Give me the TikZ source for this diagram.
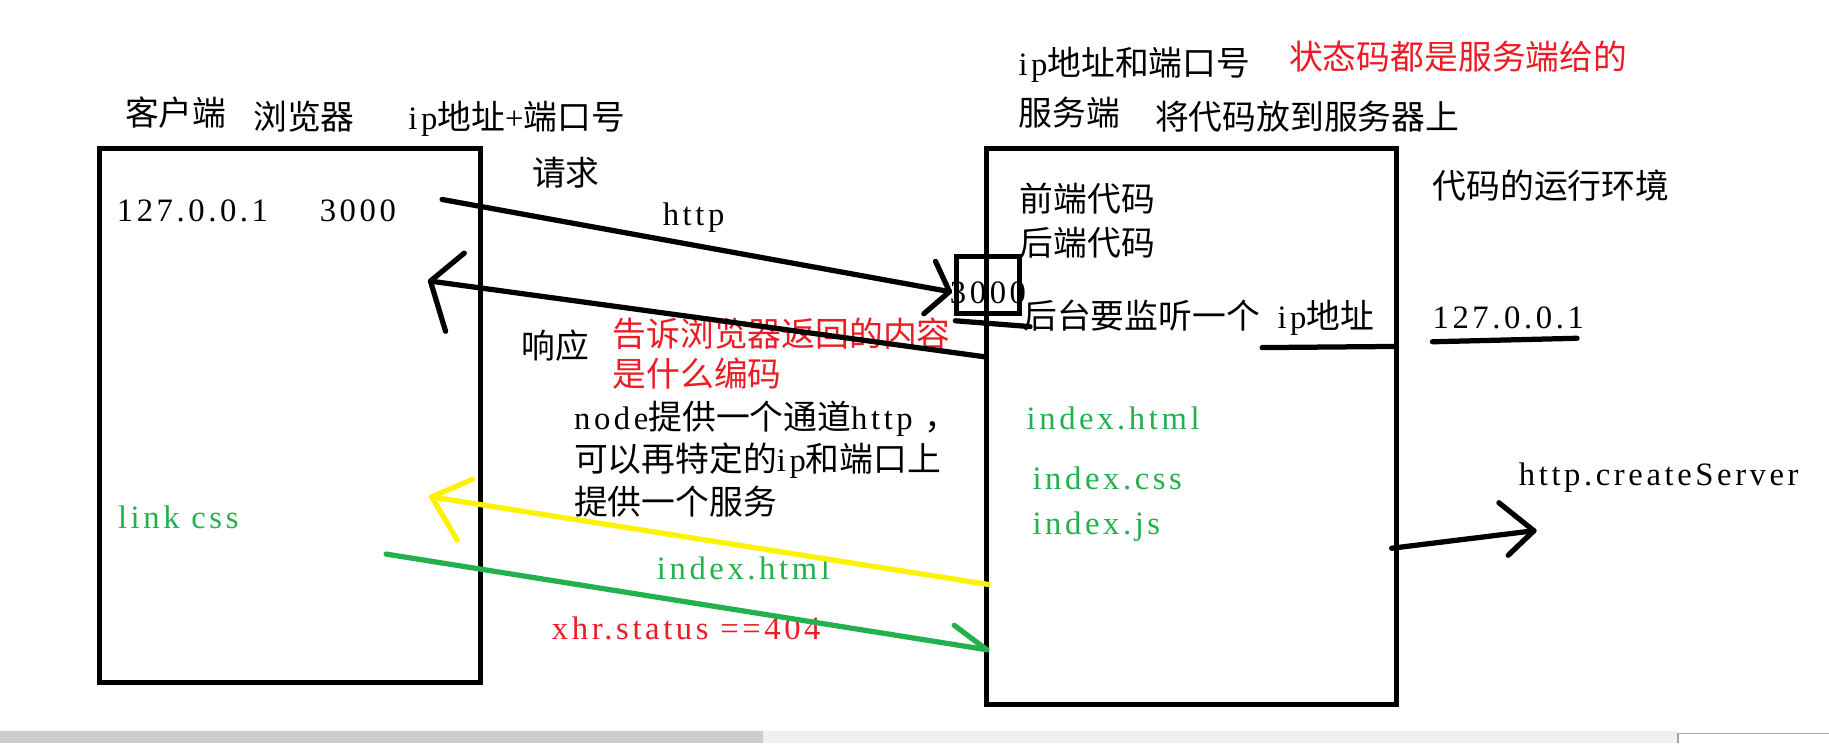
\documentclass[tikz,border=0pt]{standalone}
\usepackage{fontspec}
\setmainfont{Liberation Serif}[LetterSpace=11]
\newfontfamily\cjk{Noto Sans CJK SC}[Scale=1.035]
\newcommand\C[1]{{\cjk #1}}
\newcommand\fs{\fontsize{28}{34}\selectfont}
\definecolor{pgreen}{RGB}{34,177,76}
\definecolor{pred}{RGB}{237,28,36}
\definecolor{pyellow}{RGB}{255,242,0}
\tikzset{
  lbl/.style={anchor=west, inner sep=0pt, text height=24pt, text depth=4pt, font=\fs},
  gtxt/.style={lbl, text=pgreen},
  rtxt/.style={lbl, text=pred},
  stroke/.style={line width=4.5pt, line cap=round, line join=round},
  frame/.style={draw, line width=4.5pt, inner sep=0pt, outer sep=0pt, anchor=north west},
}
\begin{document}
\begin{tikzpicture}[x=1pt,y=-1pt]
\useasboundingbox (0,0) rectangle (1568,637);
\fill[white] (0,0) rectangle (1568,637);
% bottom scroll bar
\fill[black!20] (0,627) rectangle (654,637);
\fill[black!6] (654,627) rectangle (1438,637);
\fill[white] (1438,628.5) rectangle (1568,637);
\draw[black!35, line width=1pt] (1438.5,637) -- (1438.5,628.5) -- (1568,628.5);

% boxes
\node[frame, minimum width=327pt, minimum height=458pt] (client) at (85,127) {};
\node[frame, minimum width=351pt, minimum height=477pt] (server) at (846,127) {};
\node[frame, minimum width=54pt, minimum height=49pt, line width=4pt] (port) at (820,220) {};

% texts top left
\node[lbl] (t1) at (107,98) {\C{客户端}};
\node[lbl] (t2) at (217,101) {\C{浏览器}};
\node[lbl] (t3) at (350,101) {ip\C{地址}+\C{端口号}};
\node[lbl] (cip) at (100,180) {127.0.0.1};
\node[lbl] (cport) at (274,180) {3000};
\node[lbl] (qq) at (456,149) {\C{请求}};
\node[lbl] (http) at (568,183) {http};

% texts top right
\node[lbl] (t8) at (873,55) {ip\C{地址和端口号}};
\node[rtxt] (t9) at (1105,50) {\C{状态码都是服务端给的}};
\node[lbl] (t10) at (873,98) {\C{服务端}};
\node[lbl] (t11) at (990,101) {\C{将代码放到服务器上}};
\node[lbl] (t12) at (874,171) {\C{前端代码}};
\node[lbl] (t13) at (874,209) {\C{后端代码}};
\node[lbl] (t14) at (1228,160) {\C{代码的运行环境}};
\node[lbl, anchor=center] (p3000) at (847,250) {3000};
\node[lbl] (t16) at (877,272) {\C{后台要监听一个}};
\node[lbl] (t17) at (1095,272) {ip\C{地址}};
\node[lbl] (t18) at (1228,272) {127.0.0.1};

% middle texts
\node[lbl] (resp) at (447,297) {\C{响应}};
\node[rtxt] (r1) at (525,287) {\C{告诉浏览器返回的内容}};
\node[rtxt] (r2) at (525,321) {\C{是什么编码}};
\node[lbl] (n1) at (492,358) {node\C{提供一个通道}http \C{，}};
\node[lbl] (n2) at (492,394) {\C{可以再特定的}ip\C{和端口上}};
\node[lbl] (n3) at (492,431) {\C{提供一个服务}};

\node[gtxt] (g1) at (880,358) {index.html};
\node[gtxt] (g2) at (885,410) {index.css};
\node[gtxt] (g3) at (885,448) {index.js};
\node[lbl] (cs) at (1302,406) {http.createServer};
\node[gtxt] (lk) at (101,443) {link css};
\node[gtxt] (g4) at (563,487) {index.html};
\node[rtxt] (xs) at (473,538) {xhr.status ==404};

% connector coordinates
\coordinate (reqS) at (379,171);
\coordinate (reqT) at (814,250);
\coordinate (reqA) at (802,224);
\coordinate (reqB) at (792,269);
\coordinate (lnS) at (819,275);
\coordinate (lnT) at (883,280);
\coordinate (resS) at (845,306);
\coordinate (resT) at (369,241);
\coordinate (resA) at (398,217);
\coordinate (resB) at (382,284);
\coordinate (u1S) at (1082,298);
\coordinate (u1T) at (1197,297);
\coordinate (u2S) at (1228,293);
\coordinate (u2T) at (1352,290);
\coordinate (csS) at (1193,470);
\coordinate (csT) at (1315,455);
\coordinate (csA) at (1285,431);
\coordinate (csB) at (1293,476);
\coordinate (yS) at (847,501);
\coordinate (yT) at (370,426);
\coordinate (yA) at (405,411);
\coordinate (yB) at (392,463);
\coordinate (gS) at (331,475);
\coordinate (gT) at (846,557);
\coordinate (gA) at (818,536);

% connectors
\draw[stroke] (reqS) -- (reqT);
\draw[stroke] (reqA) -- (reqT) -- (reqB);
\draw[stroke] (lnS) -- (lnT);
\draw[stroke] (resS) -- (resT);
\draw[stroke] (resA) -- (resT) -- (resB);
\draw[stroke] (u1S) -- (u1T);
\draw[stroke] (u2S) -- (u2T);
\draw[stroke] (csS) -- (csT);
\draw[stroke] (csA) -- (csT) -- (csB);
\draw[stroke, pyellow] (yS) -- (yT);
\draw[stroke, pyellow] (yA) -- (yT) -- (yB);
\draw[stroke, pgreen] (gS) -- (gT);
\draw[stroke, pgreen] (gA) -- (gT);
\end{tikzpicture}
\end{document}
